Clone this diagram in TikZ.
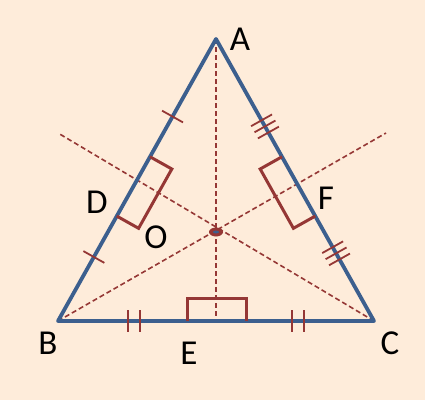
\documentclass[tikz,border=0pt]{standalone}
\usepackage{fontspec}
\setmainfont{Carlito}
\usetikzlibrary{calc,math}
\definecolor{tblue}{RGB}{60,95,142}
\definecolor{tred}{RGB}{149,55,53}
\definecolor{tback}{RGB}{254,236,218}

\begin{document}
\begin{tikzpicture}[x=1pt,y=1pt,
side/.style={tblue, line width=3.8pt, line join=round},
axisline/.style={tred, line width=1.6pt, dash pattern=on 5pt off 3pt},
tickline/.style={tred, line width=1.8pt},
rightbox/.style={tred, line width=3pt, line join=miter},
lbl/.style={font=\fontsize{35}{40}\selectfont, inner sep=0pt}]

\tikzmath{
\H = 12;% half tick length
\W = 25;% box depth
}

\fill[tback] (0,0) rectangle (425,400);

% vertices and centre
\coordinate (A) at (216,361);
\coordinate (B) at (58,79);
\coordinate (C) at (374,79);
\coordinate (O) at (216,168);
\coordinate (E) at (216,79);
\coordinate (Bend) at (386,267);
\coordinate (Cend) at (58,267);

% bisectors
\draw[axisline] (A) -- (E);
\draw[axisline] (B) -- (Bend);
\draw[axisline] (C) -- (Cend);

\draw[side] (A) -- (B) -- (C) -- cycle;

% right angle boxes
\coordinate (d1) at ($(A)!135pt!(B)$);
\coordinate (d2) at ($(A)!203pt!(B)$);
\draw[rightbox] (d1) -- ($(d1)!\W pt!90:(B)$) -- ($(d2)!\W pt!-90:(A)$) -- (d2);
\coordinate (f1) at ($(A)!135pt!(C)$);
\coordinate (f2) at ($(A)!203pt!(C)$);
\draw[rightbox] (f1) -- ($(f1)!\W pt!-90:(C)$) -- ($(f2)!\W pt!90:(A)$) -- (f2);
\coordinate (e1) at (187,79);
\coordinate (e2) at (246,79);
\draw[rightbox] (e1) -- ($(e1)!23pt!90:(C)$) -- ($(e2)!23pt!-90:(B)$) -- (e2);

% equal marks
\foreach \t in {0.275,0.773}{
\coordinate (m) at ($(A)!\t!(B)$);
\draw[tickline] ($(m)!\H pt!90:(B)$) -- ($(m)!\H pt!-90:(B)$);
}
\foreach \t in {0.24,0.76}{
\foreach \s in {-6,6}{
\coordinate (m) at ($(B)!\t!(C)$);
\coordinate (n) at ($(m)!\s pt!(C)$);
\draw[tickline] ($(n)!11pt!90:(C)$) -- ($(n)!11pt!-90:(C)$);
}
}
\foreach \t in {0.31,0.76}{
\foreach \s in {-7,0,7}{
\coordinate (m) at ($(A)!\t!(C)$);
\coordinate (n) at ($(m)!\s pt!(C)$);
\draw[tickline] ($(n)!\H pt!90:(C)$) -- ($(n)!\H pt!-90:(C)$);
}
}

\fill[tred] (O) ellipse (7 and 4.5);
\fill[tblue] (O) ellipse (3 and 1.5);

\node[lbl] (lA) at (240,361) {A};
\node[lbl] (lB) at (48,57) {B};
\node[lbl] (lC) at (390,57) {C};
\node[lbl] (lD) at (97,198) {D};
\node[lbl] (lE) at (189,47) {E};
\node[lbl] (lF) at (326,202) {F};
\node[lbl] (lO) at (156,163) {O};

\end{tikzpicture}
\end{document}
